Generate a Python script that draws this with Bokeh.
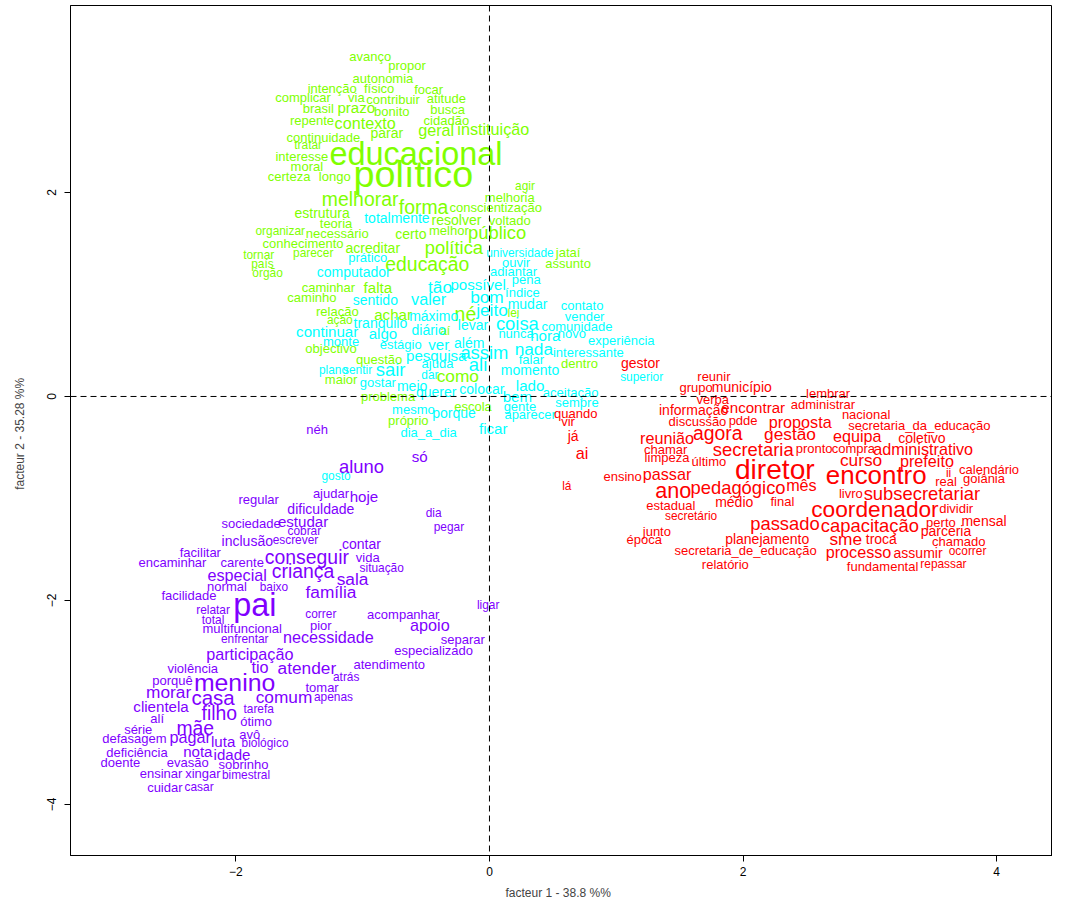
from bokeh.plotting import figure
from bokeh.models import ColumnDataSource, Span, FixedTicker
from bokeh.core.properties import value
from bokeh.embed import file_html
from bokeh.resources import INLINE

# ---- class 1 (red) ----
red_words = ["gestor", "quando", "vir", "já", "ai", "lá", "ensino", "reunir", "grupo", "município",
             "lembrar", "verba", "informação", "encontrar", "administrar", "discussão", "pdde", "proposta",
             "nacional", "secretaria_da_educação", "reunião", "agora", "gestão", "equipa", "coletivo",
             "secretaria", "chamar", "limpeza", "último", "pronto", "compra", "administrativo", "curso",
             "prefeito", "diretor", "encontro", "ii", "calendário", "real", "goiânia", "passar", "ano",
             "pedagógico", "mês", "estadual", "médio", "final", "secretário", "passado", "junto", "época",
             "planejamento", "secretaria_de_educação", "relatório", "livro", "subsecretariar", "coordenador",
             "dividir", "capacitação", "perto", "mensal", "parceria", "sme", "troca", "chamado", "processo",
             "assumir", "ocorrer", "fundamental", "repassar"]
red_x = [1.19, 0.68, 0.62, 0.66, 0.73, 0.61, 1.05, 1.77, 1.63, 1.99,
         2.67, 1.76, 1.61, 2.08, 2.63, 1.64, 2.00, 2.45,
         2.97, 3.39, 1.40, 1.80, 2.37, 2.90, 3.41,
         2.08, 1.39, 1.40, 1.73, 2.56, 2.87, 3.42, 2.93,
         3.45, 2.25, 3.05, 3.62, 3.94, 3.60, 3.90, 1.40, 1.45,
         1.96, 2.46, 1.43, 1.93, 2.31, 1.59, 2.33, 1.32, 1.22,
         2.19, 2.02, 1.86, 2.85, 3.41, 3.04,
         3.68, 3.00, 3.56, 3.90, 3.60, 2.81, 3.09, 3.70, 2.91,
         3.38, 3.77, 3.10, 3.58]
red_y = [0.33, -0.17, -0.25, -0.39, -0.55, -0.88, -0.78, 0.20, 0.09, 0.09,
         0.03, -0.03, -0.13, -0.11, -0.08, -0.25, -0.24, -0.25,
         -0.18, -0.28, -0.41, -0.36, -0.37, -0.39, -0.41,
         -0.52, -0.52, -0.60, -0.64, -0.51, -0.51, -0.51, -0.62,
         -0.63, -0.72, -0.77, -0.75, -0.72, -0.83, -0.80, -0.76, -0.92,
         -0.89, -0.87, -1.07, -1.03, -1.03, -1.17, -1.25, -1.32, -1.40,
         -1.40, -1.51, -1.65, -0.95, -0.95, -1.10,
         -1.10, -1.26, -1.24, -1.22, -1.32, -1.40, -1.40, -1.42, -1.52,
         -1.53, -1.51, -1.67, -1.64]
red_size = [13, 12, 12, 13, 15, 11, 12, 12, 12, 13,
            12, 12, 13, 14, 12, 12, 12, 15,
            12, 12, 15, 18, 16, 15, 13,
            17, 12, 12, 12, 12, 12, 15, 16,
            15, 26, 24, 11, 12, 12, 12, 15, 20,
            17, 15, 12, 13, 12, 11, 17, 12, 12,
            13, 12, 12, 12, 17, 21,
            12, 17, 12, 13, 13, 16, 13, 12, 15,
            13, 11, 12, 11]

# ---- class 2 (green) ----
green_words = ["avanço", "propor", "autonomia", "intenção", "físico", "focar", "complicar", "via",
               "contribuir", "atitude", "brasil", "prazo", "bonito", "busca", "repente", "contexto",
               "cidadão", "geral", "instituição", "parar", "continuidade", "tratar", "educacional",
               "interesse", "moral", "político", "certeza", "longo", "agir", "melhorar", "melhoria",
               "forma", "conscientização", "estrutura", "resolver", "voltado", "teoria", "organizar",
               "necessário", "melhor", "certo", "público", "conhecimento", "acreditar", "política",
               "jataí", "tornar", "parecer", "país", "educação", "assunto", "órgão", "caminhar",
               "falta", "caminho", "relação", "achar", "né", "ação", "aí", "objectivo", "questão",
               "como", "maior", "problema", "lei", "dentro", "escola", "próprio"]
green_x = [-0.94, -0.65, -0.84, -1.24, -0.87, -0.48, -1.47, -1.05,
           -0.76, -0.34, -1.35, -1.05, -0.77, -0.33, -1.40, -0.98,
           -0.34, -0.42, 0.03, -0.81, -1.31, -1.43, -0.58,
           -1.48, -1.44, -0.60, -1.58, -1.22, 0.28, -1.02, 0.16,
           -0.52, 0.05, -1.32, -0.26, 0.16, -1.21, -1.65,
           -1.20, -0.32, -0.62, 0.06, -1.47, -0.92, -0.28,
           0.62, -1.82, -1.39, -1.79, -0.49, 0.62, -1.75, -1.27,
           -0.88, -1.40, -1.20, -0.76, -0.19, -1.18, -0.35, -1.25, -0.87,
           -0.25, -1.17, -0.80, 0.19, 0.71, -0.13, -0.64]
green_y = [3.33, 3.24, 3.12, 3.02, 3.02, 3.01, 2.93, 2.93,
           2.91, 2.92, 2.82, 2.83, 2.79, 2.81, 2.71, 2.68,
           2.71, 2.61, 2.62, 2.58, 2.54, 2.47, 2.38,
           2.35, 2.25, 2.18, 2.16, 2.16, 2.06, 1.94, 1.95,
           1.86, 1.85, 1.80, 1.73, 1.73, 1.70, 1.62,
           1.60, 1.63, 1.59, 1.61, 1.50, 1.46, 1.46,
           1.41, 1.39, 1.41, 1.30, 1.30, 1.30, 1.21, 1.07,
           1.07, 0.97, 0.83, 0.80, 0.81, 0.75, 0.64, 0.47, 0.36,
           0.20, 0.17, 0.00, 0.82, 0.32, -0.10, -0.24]
green_size = [12, 12, 12, 12, 12, 12, 12, 12,
              12, 12, 12, 14, 12, 12, 12, 15,
              12, 15, 15, 13, 12, 11, 30,
              12, 12, 35, 12, 12, 11, 18, 12,
              18, 12, 13, 13, 12, 12, 11,
              12, 12, 13, 17, 12, 13, 17,
              12, 11, 11, 11, 18, 12, 11, 12,
              14, 12, 12, 14, 18, 11, 11, 12, 12,
              16, 12, 12, 11, 12, 12, 12]

# ---- class 3 (cyan) ----
cyan_words = ["totalmente", "universidade", "prático", "ouvir", "computador", "adiantar", "pena", "tão",
              "possível", "índice", "bom", "valer", "sentido", "máximo", "tranquilo", "continuar", "algo",
              "diário", "monte", "estágio", "ver", "além", "pesquisa", "assim", "plano", "sentir", "sair",
              "ajuda", "dar", "gostar", "meio", "querer", "colocar", "jeito", "mudar", "contato", "vender",
              "levar", "coisa", "comunidade", "nunca", "hora", "novo", "experiência", "nada",
              "interessante", "ali", "falar", "momento", "superior", "lado", "aceitação", "bem", "gente",
              "sempre", "mesmo", "porque", "aparecer", "dia_a_dia", "ficar", "gosto"]
cyan_x = [-0.73, 0.24, -0.96, 0.21, -1.07, 0.19, 0.29, -0.39,
          -0.09, 0.26, -0.02, -0.48, -0.90, -0.44, -0.86, -1.28, -0.84,
          -0.48, -1.17, -0.70, -0.40, -0.16, -0.42, -0.04, -1.23, -1.04, -0.78,
          -0.41, -0.47, -0.88, -0.61, -0.42, -0.06, 0.02, 0.30, 0.73, 0.75,
          -0.13, 0.22, 0.69, 0.21, 0.44, 0.65, 1.04, 0.35,
          0.78, -0.09, 0.33, 0.32, 1.20, 0.32, 0.64, 0.22, 0.24,
          0.69, -0.60, -0.28, 0.32, -0.48, 0.03, -1.21]
cyan_y = [1.75, 1.41, 1.36, 1.31, 1.22, 1.23, 1.15, 1.07,
          1.10, 1.02, 0.98, 0.96, 0.95, 0.79, 0.72, 0.64, 0.62,
          0.65, 0.54, 0.51, 0.51, 0.52, 0.40, 0.43, 0.26, 0.26, 0.26,
          0.32, 0.21, 0.14, 0.10, 0.04, 0.07, 0.85, 0.91, 0.89, 0.78,
          0.70, 0.72, 0.69, 0.62, 0.60, 0.62, 0.55, 0.47,
          0.43, 0.31, 0.36, 0.26, 0.19, 0.11, 0.04, 0.00, -0.10,
          -0.06, -0.13, -0.16, -0.18, -0.35, -0.31, -0.78]
cyan_size = [13, 11, 12, 12, 13, 12, 12, 16,
             14, 12, 16, 15, 13, 13, 13, 14, 14,
             13, 12, 12, 14, 13, 14, 17, 11, 11, 17,
             12, 11, 12, 13, 13, 13, 16, 13, 12, 12,
             13, 17, 12, 12, 14, 12, 12, 16,
             12, 17, 12, 13, 11, 14, 12, 14, 12,
             12, 12, 13, 12, 12, 14, 11]

# ---- class 4 (purple) ----
purple_words = ["néh", "só", "aluno", "regular", "ajudar", "hoje", "dificuldade", "sociedade", "estudar",
                "cobrar", "inclusão", "escrever", "contar", "facilitar", "conseguir", "vida", "encaminhar",
                "carente", "criança", "situação", "especial", "sala", "normal", "baixo", "família",
                "facilidade", "pai", "dia", "pegar", "ligar", "correr", "acompanhar", "apoio", "pior",
                "necessidade", "separar", "especializado", "atender", "atendimento", "atrás", "relatar",
                "total", "multifuncional", "enfrentar", "participação", "violência", "tio", "porquê",
                "menino", "tomar", "morar", "casa", "comum", "apenas", "clientela", "tarefa", "filho",
                "alí", "ótimo", "série", "mãe", "avô", "defasagem", "pagar", "luta", "biológico",
                "deficiência", "nota", "idade", "doente", "evasão", "sobrinho", "ensinar", "xingar",
                "bimestral", "cuidar", "casar"]
purple_x = [-1.36, -0.55, -1.01, -1.82, -1.25, -0.99, -1.33, -1.88, -1.47,
            -1.46, -1.91, -1.53, -1.01, -2.28, -1.44, -0.96, -2.50,
            -1.95, -1.47, -0.85, -1.99, -1.08, -2.07, -1.70, -1.25,
            -2.37, -1.85, -0.44, -0.32, -0.01, -1.33, -0.68, -0.47, -1.33,
            -1.27, -0.21, -0.44, -1.44, -0.79, -1.13, -2.18,
            -2.18, -1.95, -1.93, -1.89, -2.34, -1.81, -2.50,
            -2.01, -1.32, -2.53, -2.18, -1.62, -1.23, -2.59, -1.82, -2.13,
            -2.62, -1.84, -2.77, -2.32, -1.89, -2.80, -2.36, -2.10, -1.77,
            -2.78, -2.30, -2.03, -2.91, -2.38, -1.94, -2.59, -2.26,
            -1.92, -2.56, -2.29]
purple_y = [-0.32, -0.59, -0.69, -1.01, -0.95, -0.98, -1.10, -1.25, -1.23,
            -1.32, -1.42, -1.41, -1.45, -1.53, -1.57, -1.58, -1.63,
            -1.63, -1.71, -1.68, -1.75, -1.79, -1.86, -1.87, -1.92,
            -1.95, -2.04, -1.14, -1.28, -2.04, -2.13, -2.14, -2.24, -2.25,
            -2.36, -2.38, -2.49, -2.66, -2.63, -2.75, -2.09,
            -2.19, -2.27, -2.38, -2.52, -2.67, -2.65, -2.78,
            -2.80, -2.85, -2.90, -2.95, -2.95, -2.95, -3.04, -3.06, -3.10,
            -3.16, -3.19, -3.26, -3.25, -3.31, -3.35, -3.34, -3.38, -3.40,
            -3.49, -3.48, -3.51, -3.59, -3.59, -3.61, -3.70, -3.70,
            -3.71, -3.83, -3.83]
purple_size = [12, 14, 17, 12, 12, 14, 13, 12, 14,
               11, 13, 11, 13, 12, 18, 12, 12,
               12, 18, 11, 15, 16, 12, 11, 16,
               12, 30, 11, 11, 11, 11, 12, 15, 12,
               15, 12, 12, 16, 12, 11, 11,
               11, 12, 11, 15, 12, 15, 12,
               23, 12, 16, 19, 16, 11, 14, 11, 18,
               12, 12, 12, 18, 12, 12, 15, 14, 11,
               12, 14, 14, 12, 12, 12, 12, 12,
               11, 12, 11]

class_colors = {"red": "#FF0000", "green": "#80FF00", "cyan": "#00FFFF", "purple": "#8000FF"}

x_ticks = [-2, 0, 2, 4]
y_ticks = [-4, -2, 0, 2]
x_title = "facteur  1  - 38.8 %%"
y_title = "facteur  2  - 35.28 %%"

SIZE_SCALE = 1.08

p = figure(width=1052, height=904, output_backend="svg", toolbar_location=None,
           x_range=(-3.304, 4.44), y_range=(-4.50, 3.833),
           min_border_left=70, min_border_right=0, min_border_top=5, min_border_bottom=49)
p.xgrid.visible = False
p.ygrid.visible = False
p.background_fill_color = "white"
p.outline_line_color = "black"
p.outline_line_width = 1

for words, xs, ys, sizes, key in [
        (green_words, green_x, green_y, green_size, "green"),
        (cyan_words, cyan_x, cyan_y, cyan_size, "cyan"),
        (purple_words, purple_x, purple_y, purple_size, "purple"),
        (red_words, red_x, red_y, red_size, "red")]:
    src = ColumnDataSource(dict(x=xs, y=ys, text=words,
                                fs=[f"{s * SIZE_SCALE:.1f}px" for s in sizes]))
    p.text(x="x", y="y", text="text", source=src, text_font=value("Liberation Sans"),
           text_font_size="fs", text_color=class_colors[key], text_align="center",
           text_baseline="middle")

p.add_layout(Span(location=0, dimension="height", line_color="black", line_dash="6 4", line_width=1))
p.add_layout(Span(location=0, dimension="width", line_color="black", line_dash="6 4", line_width=1))

for ax in (p.xaxis[0], p.yaxis[0]):
    ax.minor_tick_line_color = None
    ax.major_tick_out = 6
    ax.major_tick_in = 0
    ax.major_label_text_font = "Liberation Sans"
    ax.major_label_text_font_size = "12px"
    ax.major_label_text_color = "black"
    ax.axis_label_text_font = "Liberation Sans"
    ax.axis_label_text_font_size = "12px"
    ax.axis_label_text_font_style = "normal"
    ax.axis_line_color = "black"

p.xaxis.ticker = FixedTicker(ticks=x_ticks)
p.yaxis.ticker = FixedTicker(ticks=y_ticks)
p.xaxis.axis_label = x_title
p.yaxis.axis_label = y_title
p.yaxis.major_label_orientation = "vertical"
p.xaxis.major_label_standoff = 5
p.yaxis.major_label_standoff = 8
p.xaxis.axis_label_standoff = 7
p.yaxis.axis_label_standoff = 18

open("out.html", "w").write(file_html(p, INLINE))
